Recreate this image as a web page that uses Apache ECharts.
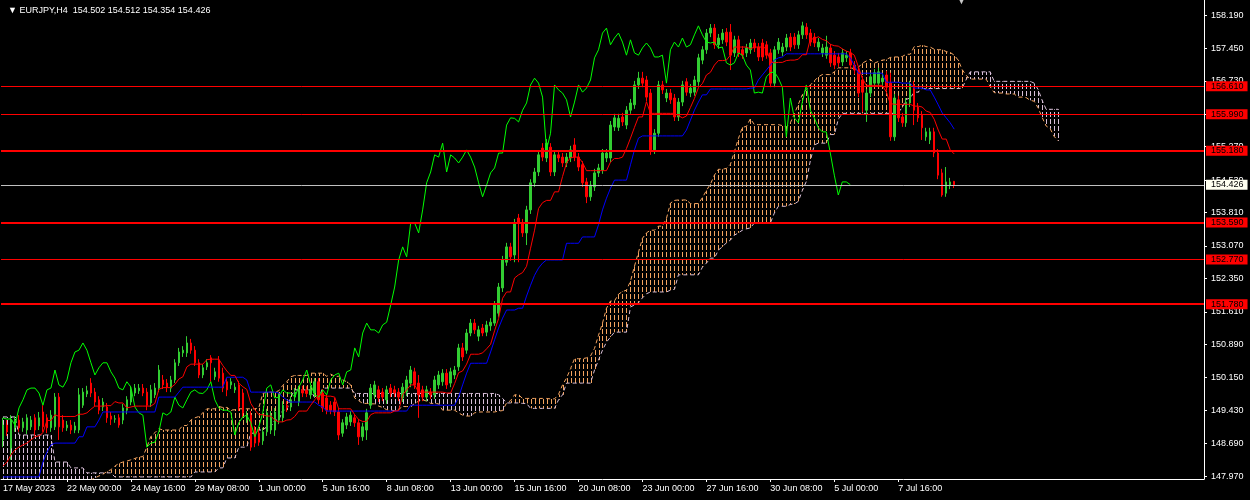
<!DOCTYPE html>
<html><head><meta charset="utf-8">
<script src="https://cdn.jsdelivr.net/npm/echarts@6/dist/echarts.min.js"></script>
<style>html,body{margin:0;padding:0;background:#000;}#c{width:1250px;height:500px;}</style>
</head><body><div id="c"></div>
<script>
const symbolName = 'EURJPY,H4';
const tickIndex = [0,16,32,48,64,80,96,112,128,144,160,176,192,208,224];
const tickLabels = ['17 May 2023','22 May 00:00','24 May 16:00','29 May 08:00','1 Jun 00:00','5 Jun 16:00','8 Jun 08:00','13 Jun 00:00','15 Jun 16:00','20 Jun 08:00','23 Jun 00:00','27 Jun 16:00','30 Jun 08:00','5 Jul 00:00','7 Jul 16:00'];
const yTicks = [147.970,148.690,149.430,150.150,150.890,151.610,152.350,153.070,153.810,154.530,155.270,155.990,156.730,157.450,158.190];
const levels = [156.610,155.990,155.180,153.590,152.770,151.780];
const lastPrice = 154.426;
const barSlots = 301;

// [open, close, low, high]
const candles = [
[148.77,149.10,148.61,149.26],[149.10,148.95,148.86,149.21],[148.59,149.21,148.33,149.32],[149.04,149.21,148.95,149.30],[149.21,149.04,148.95,149.32],
[149.04,149.17,148.95,149.26],[148.99,149.26,148.90,149.34],[149.06,149.21,148.99,149.30],[149.26,148.99,148.86,149.34],[149.08,149.26,148.99,149.39],
[149.39,149.06,148.95,149.54],[149.26,149.04,148.92,149.34],[149.04,149.32,148.95,149.43],[149.06,149.72,148.99,149.81],[149.72,149.06,148.77,149.81],
[149.21,149.04,148.95,149.32],[149.04,149.10,148.97,149.19],[149.10,148.99,148.90,149.21],[148.99,149.08,148.92,149.17],[148.99,149.77,148.92,149.92],
[149.54,149.83,149.48,149.92],[149.79,149.86,149.72,149.97],[150.03,149.81,149.72,150.14],[149.83,149.61,149.52,149.92],[149.66,149.43,149.34,149.74],
[149.50,149.61,149.41,149.70],[149.50,149.26,149.15,149.59],[149.30,149.23,149.10,149.39],[149.23,149.24,149.15,149.32],[149.26,149.10,149.04,149.34],
[149.21,149.48,149.12,149.57],[149.43,149.66,149.34,149.74],[149.61,149.88,149.54,149.97],[149.81,149.92,149.74,150.01],[149.86,149.92,149.79,150.01],
[149.92,149.81,149.74,150.01],[149.83,149.54,149.43,149.92],[149.59,149.88,149.50,149.99],[149.77,149.92,149.70,150.03],[149.92,150.32,149.83,150.43],
[150.10,149.99,149.90,150.21],[150.03,149.94,149.83,150.12],[149.92,150.10,149.83,150.19],[150.10,150.48,150.03,150.56],[150.48,150.72,150.41,150.81],
[150.70,150.76,150.61,150.85],[150.70,150.92,150.61,151.07],[150.92,150.76,150.68,151.01],[150.76,150.48,150.41,150.85],[150.48,150.21,150.14,150.56],
[150.21,150.37,150.14,150.45],[150.39,150.48,150.32,150.56],[150.59,150.48,150.06,150.65],[150.17,150.28,150.10,150.37],[150.54,150.14,150.06,150.63],
[150.25,149.92,149.83,150.37],[150.06,149.88,149.74,150.14],[149.99,150.06,149.90,150.14],[149.88,149.94,149.81,150.03],[149.99,149.50,149.41,150.08],
[149.81,149.37,149.26,149.90],[149.21,149.32,149.15,149.41],[149.32,148.61,148.53,149.41],[148.99,148.70,148.61,149.08],[148.92,148.72,148.64,149.01],
[148.75,148.95,148.66,149.04],[148.95,149.37,148.86,149.46],[148.99,149.32,148.90,149.41],[148.99,149.39,148.86,149.48],[149.21,149.72,149.12,149.81],
[149.26,149.54,149.17,149.63],[149.54,149.48,149.39,149.63],[149.50,149.66,149.41,149.74],[149.72,149.83,149.63,149.92],[149.61,149.88,149.52,149.97],
[149.88,149.81,149.72,149.97],[149.87,149.80,149.72,149.96],[149.77,149.88,149.68,149.97],[149.81,150.06,149.72,150.14],[150.06,149.66,149.57,150.14],
[149.81,149.48,149.39,149.90],[149.70,149.43,149.34,149.79],[149.54,149.43,149.34,149.63],[149.61,149.39,149.30,149.70],[149.39,148.88,148.77,149.48],
[148.92,149.15,148.84,149.23],[149.10,149.28,149.01,149.37],[149.17,149.32,149.08,149.41],[149.26,149.15,149.06,149.34],[149.15,148.84,148.66,149.23],
[148.84,149.06,148.75,149.15],[148.99,149.37,148.77,149.46],[149.54,149.92,149.46,150.01],[149.77,149.99,149.68,150.08],[149.88,149.70,149.61,149.97],
[149.83,149.72,149.63,149.92],[149.66,149.88,149.57,149.97],[149.92,149.81,149.72,150.01],[149.88,149.81,149.72,149.97],[149.83,149.72,149.63,149.92],
[149.70,149.94,149.61,150.03],[149.83,150.10,149.74,150.19],[150.03,150.32,149.94,150.41],[150.28,149.99,149.90,150.37],[150.03,149.77,149.26,150.21],
[149.88,149.72,149.63,149.97],[149.72,149.88,149.63,149.97],[149.83,149.77,149.68,149.92],[149.77,150.10,149.68,150.19],[149.99,150.21,149.90,150.30],
[150.06,150.25,149.97,150.34],[150.25,149.99,149.90,150.34],[150.03,150.28,149.94,150.37],[150.21,150.32,150.12,150.41],[150.39,150.81,150.30,150.90],
[150.81,150.61,150.52,150.92],[150.76,151.14,150.68,151.23],[151.14,151.36,151.07,151.45],[151.36,151.21,151.12,151.45],[151.07,151.21,150.96,151.30],
[151.25,151.14,151.07,151.34],[151.16,151.32,151.07,151.41],[151.30,151.38,151.19,151.47],[151.36,151.76,151.30,151.85],[151.58,152.16,151.50,152.25],
[152.14,152.76,152.05,152.85],[152.71,153.05,152.63,153.14],[153.05,152.83,152.74,153.14],[152.87,153.58,152.71,153.67],[153.69,153.58,152.71,153.78],
[153.58,153.36,153.27,153.67],[153.36,153.87,153.09,153.96],[153.87,154.47,153.78,154.55],[154.47,154.71,154.38,154.80],[154.71,155.09,154.62,155.18],
[155.24,155.04,154.95,155.35],[155.02,155.35,154.93,155.44],[155.26,154.71,154.62,155.35],[154.71,155.09,154.62,155.18],[155.09,155.02,154.93,155.18],
[155.04,154.91,154.82,155.13],[154.91,155.04,154.82,155.13],[155.02,155.20,154.93,155.29],[155.31,155.04,154.95,155.46],[155.04,154.82,154.73,155.13],
[154.87,154.47,154.38,154.95],[154.49,154.16,154.02,154.58],[154.16,154.42,154.07,154.51],[154.38,154.69,154.29,154.78],[154.69,154.80,154.60,154.89],
[154.75,155.13,154.67,155.22],[155.02,155.13,154.93,155.22],[155.02,155.75,154.93,155.84],[155.71,155.91,155.62,156.00],[155.70,155.90,155.62,156.00],
[155.93,155.82,155.73,156.02],[155.75,156.08,155.66,156.17],[156.08,156.24,156.00,156.33],[156.20,156.64,156.11,156.73],[156.64,156.79,156.55,156.93],
[156.79,156.68,156.59,156.93],[156.75,156.37,156.28,156.84],[156.46,155.20,155.09,156.55],[155.20,155.57,155.11,155.66],[155.57,156.64,155.49,156.73],
[156.64,156.53,156.44,156.73],[156.35,156.46,156.26,156.55],[156.46,156.31,156.22,156.55],[156.35,155.93,155.84,156.44],[155.93,156.26,155.84,156.35],
[156.26,156.64,156.17,156.73],[156.71,156.48,156.40,156.79],[156.46,156.57,156.37,156.66],[156.48,156.75,156.40,156.84],[156.71,157.24,156.62,157.33],
[157.19,157.42,157.10,157.50],[157.42,157.79,157.33,157.88],[157.79,157.90,157.70,157.99],[157.90,157.53,157.44,157.99],[157.53,157.68,157.44,157.77],
[157.64,157.79,157.55,157.88],[157.81,157.59,157.50,157.90],[157.81,157.30,156.97,157.99],[157.35,157.64,157.26,157.73],[157.64,157.35,157.26,157.73],
[157.42,157.30,157.22,157.50],[157.35,157.46,157.26,157.55],[157.42,157.57,157.33,157.66],[157.57,157.46,157.37,157.66],[157.48,157.26,157.17,157.57],
[157.57,157.26,157.17,157.66],[157.53,157.30,157.22,157.61],[157.35,156.68,156.59,157.44],[156.68,157.42,156.59,157.50],[157.42,157.59,157.33,157.68],
[157.37,157.48,157.28,157.57],[157.48,157.68,157.39,157.77],[157.70,157.48,157.39,157.79],[157.70,157.53,157.44,157.79],[157.53,157.75,157.44,157.84],
[157.75,157.95,157.66,158.04],[157.92,157.75,157.66,158.01],[157.79,157.59,157.50,157.88],[157.70,157.57,157.48,157.79],[157.48,157.59,157.39,157.68],
[157.35,157.46,157.26,157.55],[157.30,157.48,157.22,157.73],[157.46,157.13,157.04,157.55],[157.30,157.08,156.99,157.39],[157.26,157.13,157.04,157.35],
[157.15,157.35,157.06,157.44],[157.24,157.30,157.15,157.39],[157.35,157.08,156.99,157.44],[157.08,156.97,156.88,157.17],[156.97,156.46,156.37,157.06],
[156.75,156.48,156.04,156.84],[156.08,156.46,155.82,156.55],[156.46,156.82,156.37,156.91],[156.68,156.91,156.59,156.99],[156.68,156.93,156.59,157.02],
[156.71,156.79,156.62,156.88],[156.86,156.59,156.51,156.95],[156.68,155.49,155.40,156.91],[155.49,156.35,155.40,156.44],[156.31,155.91,155.82,156.40],
[155.93,155.80,155.71,156.02],[155.80,156.26,155.71,156.35],[156.24,156.64,156.15,156.73],[156.64,156.08,155.75,156.73],[156.15,155.91,155.82,156.24],
[155.97,155.69,155.42,156.06],[155.49,155.60,155.40,155.69],[155.42,155.60,155.33,155.69],[155.60,155.13,155.04,155.69],[155.13,154.64,154.55,155.22],
[154.69,154.20,154.16,154.78],[154.24,154.49,154.16,154.82],[154.42,154.49,154.33,154.58],[154.502,154.426,154.354,154.512]
];

const tenkan = [
148.19,148.28,148.44,148.55,148.61,148.66,148.70,148.77,148.84,148.86,
148.93,149.20,149.20,149.33,149.29,149.29,149.29,149.29,149.29,149.34,
149.34,149.37,149.45,149.52,149.52,149.52,149.53,149.53,149.62,149.59,
149.59,149.48,149.50,149.52,149.52,149.52,149.52,149.52,149.58,149.89,
149.93,149.93,149.93,150.00,150.12,150.17,150.39,150.45,150.45,150.45,
150.45,150.55,150.56,150.56,150.56,150.42,150.30,150.20,150.20,150.03,
149.95,149.89,149.58,149.44,149.33,149.33,149.30,149.30,149.21,149.17,
149.17,149.21,149.22,149.29,149.41,149.41,149.41,149.54,149.66,149.77,
149.77,149.74,149.74,149.72,149.46,149.46,149.46,149.46,149.33,149.22,
149.18,149.18,149.33,149.37,149.37,149.37,149.37,149.37,149.41,149.42,
149.77,149.88,149.99,149.99,149.83,149.83,149.83,149.83,149.83,149.83,
149.83,149.81,149.81,150.02,150.26,150.30,150.45,150.67,150.67,150.67,
150.70,150.79,150.89,151.19,151.46,151.91,152.05,152.05,152.36,152.43,
152.48,152.62,153.02,153.42,153.90,154.03,154.08,154.08,154.27,154.27,
154.61,154.91,155.03,155.04,155.04,154.92,154.74,154.74,154.74,154.74,
154.74,154.74,154.93,155.01,155.01,155.04,155.23,155.46,155.70,155.93,
155.93,156.27,156.01,156.01,156.01,156.01,156.01,156.01,156.01,155.96,
155.91,155.95,156.14,156.34,156.58,156.67,156.86,156.92,157.08,157.18,
157.18,157.19,157.30,157.48,157.48,157.48,157.48,157.44,157.48,157.48,
157.48,157.45,157.16,157.13,157.14,157.14,157.18,157.19,157.19,157.21,
157.31,157.31,157.66,157.66,157.71,157.65,157.62,157.54,157.51,157.50,
157.44,157.39,157.36,157.30,157.05,156.79,156.63,156.63,156.63,156.63,
156.63,156.49,156.23,156.21,156.21,156.21,156.21,156.21,156.17,156.17,
156.15,156.06,156.03,155.88,155.64,155.44,155.44,155.20,155.11
];

const kijun = [
147.95,147.95,147.95,147.95,147.95,147.95,147.95,147.95,147.95,147.95,
148.28,148.50,148.66,148.70,148.70,148.70,148.70,148.70,148.70,148.84,
148.84,149.06,149.06,149.06,149.21,149.39,149.39,149.39,149.39,149.39,
149.39,149.39,149.39,149.39,149.39,149.39,149.39,149.39,149.39,149.72,
149.72,149.72,149.72,149.72,149.83,149.94,149.94,149.94,149.94,149.94,
149.94,149.94,149.94,149.94,149.94,149.94,150.16,150.16,150.16,150.16,
150.16,150.10,149.83,149.83,149.83,149.83,149.83,149.83,149.83,149.81,
149.72,149.66,149.61,149.61,149.61,149.61,149.61,149.61,149.61,149.54,
149.50,149.41,149.41,149.41,149.41,149.41,149.41,149.41,149.41,149.41,
149.41,149.41,149.41,149.41,149.41,149.41,149.41,149.41,149.41,149.41,
149.41,149.41,149.54,149.54,149.54,149.54,149.54,149.54,149.54,149.54,
149.54,149.54,149.54,149.54,149.72,149.99,150.25,150.47,150.47,150.47,
150.47,150.47,150.72,150.99,151.25,151.47,151.65,151.65,151.65,151.69,
151.69,151.96,152.20,152.42,152.58,152.69,152.76,152.76,152.76,152.76,
152.76,153.13,153.13,153.13,153.13,153.27,153.27,153.27,153.27,153.54,
153.87,154.13,154.35,154.53,154.53,154.53,154.53,154.87,155.20,155.46,
155.51,155.51,155.51,155.51,155.51,155.51,155.51,155.51,155.51,155.51,
155.51,155.64,155.86,156.08,156.26,156.42,156.42,156.55,156.55,156.55,
156.55,156.55,156.55,156.55,156.55,156.55,156.55,156.57,156.57,156.75,
156.86,156.97,157.08,157.19,157.24,157.26,157.33,157.33,157.33,157.33,
157.33,157.33,157.33,157.33,157.33,157.33,157.33,157.33,157.33,157.33,
157.33,157.33,157.24,157.08,156.90,156.90,156.90,156.90,156.90,156.90,
156.90,156.70,156.70,156.70,156.70,156.68,156.68,156.68,156.57,156.57,
156.57,156.53,156.53,156.37,156.20,156.02,155.91,155.80,155.66
];

const chikou = [
149.26,149.23,149.24,149.10,149.48,149.66,149.88,149.92,149.92,149.81,
149.54,149.88,149.92,150.32,149.99,149.94,150.10,150.48,150.72,150.76,
150.92,150.76,150.48,150.21,150.37,150.48,150.48,150.28,150.14,149.92,
149.88,150.06,149.94,149.50,149.37,149.32,148.61,148.70,148.72,148.95,
149.37,149.32,149.39,149.72,149.54,149.48,149.66,149.83,149.88,149.81,
149.80,149.88,150.06,149.66,149.48,149.43,149.43,149.39,148.88,149.15,
149.28,149.32,149.15,148.84,149.06,149.37,149.92,149.99,149.70,149.72,
149.88,149.81,149.81,149.72,149.94,150.10,150.32,149.99,149.77,149.72,
149.88,149.77,150.10,150.21,150.25,149.99,150.28,150.32,150.81,150.61,
151.14,151.36,151.21,151.21,151.14,151.32,151.38,151.76,152.16,152.76,
153.05,152.83,153.58,153.58,153.36,153.87,154.47,154.71,155.09,155.04,
155.35,154.71,155.09,155.02,154.91,155.04,155.20,155.04,154.82,154.47,
154.16,154.42,154.69,154.80,155.13,155.13,155.75,155.91,155.90,155.82,
156.08,156.24,156.64,156.79,156.68,156.37,155.20,155.57,156.64,156.53,
156.46,156.31,155.93,156.26,156.64,156.48,156.57,156.75,157.24,157.42,
157.79,157.90,157.53,157.68,157.79,157.59,157.30,157.64,157.35,157.30,
157.46,157.57,157.46,157.26,157.26,157.30,156.68,157.42,157.59,157.48,
157.68,157.48,157.53,157.75,157.95,157.75,157.59,157.57,157.59,157.46,
157.48,157.13,157.08,157.13,157.35,157.30,157.08,156.97,156.46,156.48,
156.46,156.82,156.91,156.93,156.79,156.59,155.49,156.35,155.91,155.80,
156.26,156.64,156.08,155.91,155.69,155.60,155.60,155.13,154.64,154.20,
154.49,154.49,154.43
];

const spanA = [
147.66,147.66,147.66,147.66,147.66,147.66,147.66,147.66,147.66,147.66,
147.66,147.66,147.66,147.77,147.77,147.77,147.77,147.77,147.77,147.77,
147.77,147.84,147.88,147.93,147.97,148.01,148.07,148.11,148.19,148.25,
148.28,148.30,148.33,148.36,148.39,148.40,148.61,148.85,148.93,149.02,
148.99,148.99,148.99,148.99,148.99,149.09,149.09,149.21,149.26,149.29,
149.37,149.46,149.46,149.46,149.51,149.49,149.49,149.43,149.44,149.46,
149.46,149.46,149.46,149.46,149.48,149.80,149.83,149.83,149.83,149.86,
149.98,150.06,150.17,150.20,150.20,150.20,150.20,150.25,150.25,150.25,
150.25,150.18,150.23,150.18,150.18,150.10,150.06,149.99,149.70,149.64,
149.58,149.58,149.57,149.57,149.52,149.49,149.44,149.43,149.42,149.45,
149.51,149.51,149.51,149.58,149.63,149.66,149.63,149.58,149.58,149.57,
149.43,149.43,149.43,149.43,149.37,149.32,149.30,149.30,149.37,149.39,
149.39,149.39,149.39,149.39,149.41,149.42,149.59,149.64,149.77,149.77,
149.69,149.69,149.69,149.69,149.69,149.69,149.69,149.68,149.68,149.78,
149.99,150.14,150.35,150.57,150.57,150.57,150.59,150.63,150.80,151.09,
151.36,151.69,151.85,151.85,152.00,152.06,152.09,152.29,152.62,152.93,
153.24,153.36,153.42,153.42,153.51,153.51,153.68,154.02,154.08,154.09,
154.09,154.09,154.01,154.01,154.01,154.14,154.30,154.44,154.64,154.77,
154.77,154.79,154.88,155.16,155.45,155.70,155.72,155.89,155.76,155.76,
155.76,155.76,155.76,155.76,155.76,155.74,155.71,155.80,156.00,156.21,
156.42,156.54,156.64,156.73,156.82,156.87,156.87,156.87,156.93,157.02,
157.02,157.02,157.02,157.00,157.03,157.12,157.17,157.21,157.12,157.16,
157.19,157.20,157.25,157.26,157.26,157.27,157.32,157.32,157.49,157.49,
157.52,157.49,157.48,157.43,157.42,157.42,157.38,157.36,157.30,157.19,
156.98,156.85,156.77,156.77,156.77,156.77,156.77,156.60,156.47,156.46,
156.46,156.44,156.44,156.44,156.37,156.37,156.36,156.30,156.28,156.13,
155.92,155.73,155.67,155.50,155.40
];

const spanB = [
149.28,149.28,149.28,149.28,148.88,148.88,148.88,148.88,148.88,148.88,
148.88,148.88,148.88,148.28,148.28,148.28,148.28,148.15,148.15,148.15,
148.15,148.04,148.04,148.04,148.04,148.04,148.04,148.04,147.95,147.95,
147.95,147.95,147.95,147.95,147.95,147.95,147.95,147.95,147.95,147.95,
147.95,147.95,147.95,147.95,147.95,147.95,147.95,147.95,148.06,148.06,
148.06,148.06,148.06,148.06,148.15,148.15,148.37,148.37,148.37,148.61,
148.61,148.61,148.92,148.92,148.99,148.99,149.06,149.06,149.21,149.21,
149.43,149.43,149.72,149.88,149.88,149.88,149.88,149.88,149.70,149.70,
149.92,149.92,149.92,149.92,149.92,149.92,149.92,149.92,149.80,149.80,
149.80,149.80,149.80,149.80,149.80,149.80,149.80,149.80,149.80,149.80,
149.80,149.80,149.80,149.80,149.80,149.80,149.80,149.80,149.80,149.80,
149.80,149.80,149.80,149.80,149.80,149.80,149.80,149.80,149.80,149.80,
149.80,149.80,149.80,149.80,149.77,149.69,149.59,149.59,149.59,149.59,
149.58,149.58,149.47,149.47,149.47,149.47,149.47,149.47,149.47,149.66,
149.77,150.03,150.03,150.03,150.03,150.03,150.03,150.03,150.32,150.54,
150.76,150.94,151.05,151.16,151.16,151.16,151.16,151.72,151.76,151.81,
151.92,152.01,152.05,152.05,152.05,152.05,152.05,152.09,152.11,152.43,
152.43,152.43,152.43,152.43,152.43,152.60,152.69,152.80,152.80,152.98,
153.05,153.14,153.20,153.31,153.36,153.42,153.45,153.47,153.58,153.58,
153.58,153.58,153.58,153.80,153.95,153.95,153.95,153.99,154.00,154.06,
154.30,154.50,154.96,155.31,155.35,155.35,155.35,155.54,155.54,155.88,
156.01,156.01,156.01,156.01,156.01,156.01,156.01,156.01,156.01,156.01,
156.01,156.01,156.01,156.01,156.03,156.14,156.32,156.35,156.48,156.48,
156.56,156.56,156.56,156.56,156.56,156.56,156.56,156.56,156.56,156.56,
156.57,156.76,156.93,156.93,156.93,156.93,156.93,156.93,156.72,156.72,
156.72,156.72,156.72,156.72,156.72,156.72,156.72,156.72,156.68,156.54,
156.30,156.10,156.10,156.10,156.10
];

// ---------- chart ----------
const FONT = 'Liberation Sans';
const fmt = v => Number(v).toFixed(3);
const cats = Array.from({length: barSlots}, (_, i) => String(i));
const labelAt = {};
tickIndex.forEach((k, j) => { labelAt[k] = tickLabels[j]; });
const cloud = spanA.map((a, i) => [i, a, spanB[i]]);
const last = candles[candles.length - 1];
const titleText = '\u25BC ' + symbolName + '  ' + [last[0], last[3], last[2], last[1]].map(fmt).join(' ');

const levelWidths = [1, 1, 2, 2, 1, 2];
const markData = levels.map((v, k) => ({
  yAxis: v,
  lineStyle: {color: '#FF0000', width: levelWidths[k], type: 'solid'},
  label: {backgroundColor: '#FF0000', color: '#000000'}
}));
markData.push({
  yAxis: lastPrice,
  lineStyle: {color: '#C0C0C0', width: 1, type: 'solid'},
  label: {backgroundColor: '#FFFFF0', color: '#000000'}
});

const lineSeries = (name, data, color, z, dash) => ({
  name, type: 'line', data, symbol: 'none', showSymbol: false, silent: true, z,
  lineStyle: {color, width: 1, type: dash || 'solid'}, animation: false
});

const chart = echarts.init(document.getElementById('c'));
chart.setOption({
  backgroundColor: '#000000',
  animation: false,
  title: {
    text: titleText, left: 3, top: 1,
    textStyle: {color: '#FFFFFF', fontSize: 9, fontWeight: 'normal', fontFamily: FONT}
  },
  graphic: [{type: 'text', left: 957, top: -3, style: {text: '\u25BC', fill: '#C8C8C8', font: '9px ' + FONT}}],
  grid: {left: -1, right: 46, top: 0, bottom: 21, containLabel: false},
  xAxis: {
    type: 'category', data: cats, boundaryGap: true,
    axisLine: {show: true, lineStyle: {color: '#FFFFFF', width: 1}},
    axisTick: {show: true, alignWithLabel: true, length: 3, interval: (i) => i > 0 && labelAt[i] !== undefined, lineStyle: {color: '#FFFFFF'}},
    axisLabel: {interval: (i) => labelAt[i] !== undefined, formatter: (v, i) => labelAt[i] || '', color: '#FFFFFF', fontSize: 9, fontFamily: FONT, align: 'left', margin: 5},
    splitLine: {show: false}
  },
  yAxis: {
    type: 'value', position: 'right', min: 147.904, max: 158.523, scale: true,
    axisLine: {show: true, lineStyle: {color: '#FFFFFF', width: 1}},
    axisTick: {show: true, length: 3, customValues: yTicks, lineStyle: {color: '#FFFFFF'}},
    axisLabel: {customValues: yTicks, formatter: v => fmt(v), color: '#FFFFFF', fontSize: 9, fontFamily: FONT, margin: 7},
    splitLine: {show: false}
  },
  series: [
    {
      name: 'cloud', type: 'custom', data: cloud, z: 1, clip: true, silent: true,
      encode: {x: 0, y: [1, 2]},
      renderItem: (params, api) => {
        const i = api.value(0), a = api.value(1), b = api.value(2);
        const pa = api.coord([i, a]), pb = api.coord([i, b]);
        const x = Math.round(pa[0]) + 0.5;
        const y1 = Math.min(pa[1], pb[1]), y2 = Math.max(pa[1], pb[1]);
        return {
          type: 'line',
          shape: {x1: x, y1: y1, x2: x, y2: y2},
          style: {stroke: a >= b ? '#F4A460' : '#D8BFD8', lineWidth: 1, lineDash: [5, 2], lineDashOffset: y1 % 7}
        };
      },
      markLine: {
        silent: true, symbol: ['none', 'none'], animation: false, precision: 3,
        label: {show: true, position: 'end', distance: 2, formatter: p => fmt(p.value), fontSize: 9, fontFamily: FONT, padding: [1, 4, 0, 5], lineHeight: 9},
        data: markData
      }
    },
    lineSeries('Senkou A', spanA, '#F4A460', 2, [4, 3]),
    lineSeries('Senkou B', spanB, '#D8BFD8', 2, [4, 3]),
    {
      name: symbolName, type: 'candlestick', data: candles, z: 3, silent: true, barWidth: 2,
      itemStyle: {color: '#32CD32', color0: '#FF0000', borderColor: '#32CD32', borderColor0: '#FF0000', borderWidth: 1}
    },
    lineSeries('Chikou', chikou, '#00FF00', 4),
    lineSeries('Kijun', kijun, '#0000FF', 4),
    lineSeries('Tenkan', tenkan, '#FF0000', 4)
  ]
});
</script></body></html>
